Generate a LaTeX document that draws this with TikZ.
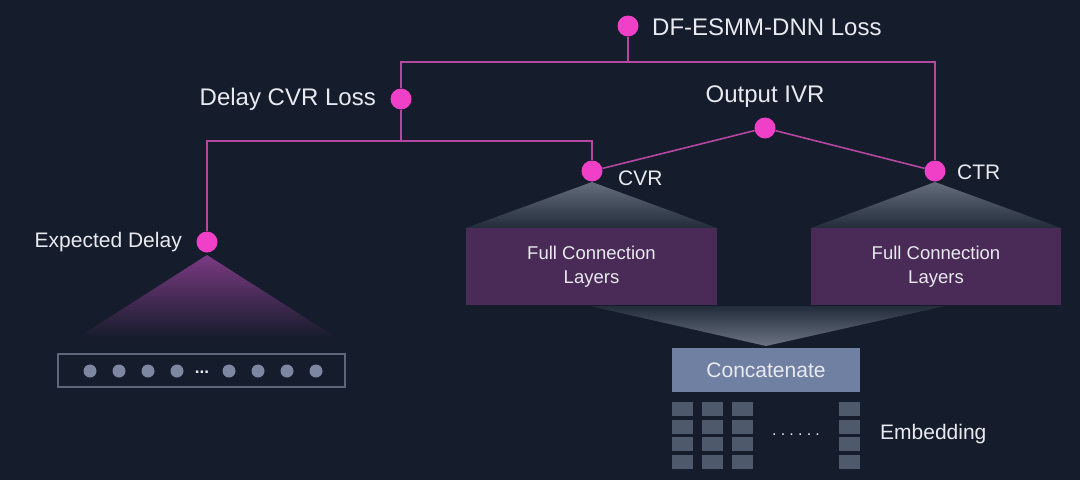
\documentclass[tikz,border=0pt]{standalone}
\usepackage{fontspec}
\setmainfont{Liberation Sans}
\definecolor{bg}{HTML}{151C2B}
\definecolor{pinkdot}{HTML}{F040C8}
\definecolor{wire}{HTML}{B4479F}
\definecolor{fcfill}{HTML}{4A2A56}
\definecolor{concatfill}{HTML}{7080A2}
\definecolor{embfill}{HTML}{4E596B}
\definecolor{bardot}{HTML}{7D87A2}
\definecolor{barline}{HTML}{5E6679}
\definecolor{txt}{HTML}{E8EAF0}
\definecolor{delaytop}{HTML}{7B3A82}
\definecolor{graytop}{HTML}{646D7C}
\definecolor{graybot}{HTML}{232C3B}
\begin{document}
\begin{tikzpicture}[x=1pt,y=-1pt,
  dot/.style={circle, fill=pinkdot, minimum size=21pt, inner sep=0pt},
  conn/.style={draw=wire, line width=1.6pt},
  biglbl/.style={text=txt, font=\fontsize{24}{28}\selectfont, inner sep=0pt},
  midlbl/.style={text=txt, font=\fontsize{21}{25}\selectfont, inner sep=0pt},
  fcbox/.style={fill=fcfill, minimum width=251pt, minimum height=77pt, inner sep=0pt,
    align=center, text=txt, font=\fontsize{18.5}{24}\selectfont},
  bdot/.style={circle, fill=bardot, minimum size=13pt, inner sep=0pt},
  embsq/.style={fill=embfill}
]
\fill[bg] (0,0) rectangle (1080,480);
\useasboundingbox (0,0) rectangle (1080,480);

% shaded fans
\shade[top color=delaytop, bottom color=bg] (207,255) -- (337,338) -- (77,338) -- cycle;
\shade[top color=graytop, bottom color=graybot] (592,182) -- (717,228) -- (466,228) -- cycle;
\shade[top color=graytop, bottom color=graybot] (935,182) -- (1061,228) -- (811,228) -- cycle;
\shade[top color=graybot, bottom color=graytop!95!white] (590,306) -- (945,306) -- (766,346) -- cycle;

% dots
\node[dot] (df) at (628,26) {};
\node[dot] (delay) at (401,99) {};
\node[dot] (ivr) at (765,128) {};
\node[dot] (cvr) at (592,171) {};
\node[dot] (ctr) at (935,171) {};
\node[dot] (exp) at (207,242) {};

% labels
\node[biglbl, anchor=west] (tdf) at (652,27) {DF-ESMM-DNN Loss};
\node[biglbl, anchor=east] (tdelay) at (376,99) {Delay CVR Loss};
\node[biglbl] (tivr) at (765,97) {Output IVR};
\node[midlbl, anchor=west] (tcvr) at (618,178) {CVR};
\node[midlbl, anchor=west] (tctr) at (957,172) {CTR};
\node[midlbl, anchor=east] (texp) at (182,242) {Expected Delay};

% connectors
\coordinate (j1) at (628,62);
\coordinate (j2) at (401,141);
\draw[conn] (df) -- (j1);
\draw[conn] (delay) |- (j1) -| (ctr);
\draw[conn] (delay) -- (j2);
\draw[conn] (exp) |- (j2) -| (cvr);
\draw[conn] (ivr) -- (cvr);
\draw[conn] (ivr) -- (ctr);

% full connection layers
\node[fcbox] (fcl) at (591.5,266.5) {Full Connection\\Layers};
\node[fcbox, minimum width=250pt] (fcr) at (936,266.5) {Full Connection\\Layers};

% concatenate
\node[fill=concatfill, minimum width=188pt, minimum height=44pt, inner sep=0pt,
  text=txt, font=\fontsize{21}{25}\selectfont] (concat) at (766,370) {Concatenate};

% embedding squares
\foreach \cx in {672,702,732,839}{
  \foreach \ry in {402,419.5,437,454.5}{
    \fill[embsq] (\cx,\ry) rectangle ++(21,14);
  }
}
\node[text=txt, inner sep=0pt, font=\fontsize{16}{18}\selectfont] (edots) at (796,435)
  {.\hspace{4.2pt}.\hspace{4.2pt}.\hspace{4.2pt}.\hspace{4.2pt}.\hspace{4.2pt}.};
\node[midlbl, anchor=west] (temb) at (880,434) {Embedding};

% input bar
\node[draw=barline, line width=1.2pt, minimum width=287pt, minimum height=33pt, inner sep=0pt] (bar) at (201.5,370.5) {};
\foreach \i/\x in {1/90,2/119,3/148,4/177,5/229,6/258,7/287,8/316}{
  \node[bdot] (bd\i) at (\x,371) {};
}
\node[text=txt, inner sep=0pt, font=\bfseries\fontsize{17}{18}\selectfont] (bdots) at (202,372) {...};
\end{tikzpicture}
\end{document}
